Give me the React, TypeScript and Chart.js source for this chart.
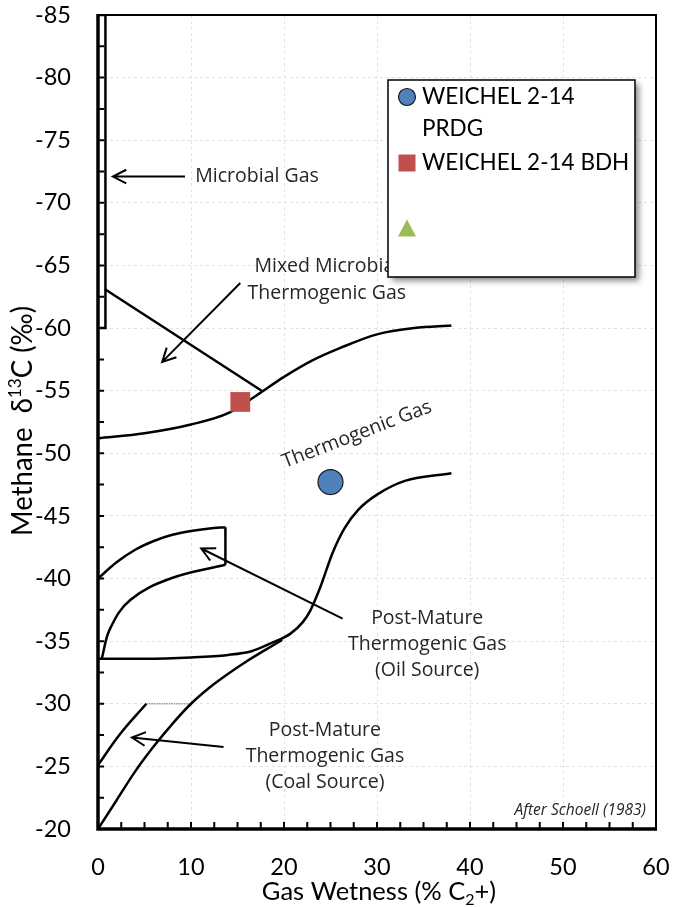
import React, { useEffect, useRef } from "react";
import { Chart, registerables } from "chart.js";

Chart.register(...registerables);

// ---------------- data ----------------
const xMin = 0;
const xMax = 60;
const xStep = 10;
const xMinorStep = 2.5;
const yMin = -85;
const yMax = -20;
const yStep = 5;
const yMinorStep = 2.5;

const prdgPoints = [{ x: 25, y: -47.7 }];
const bdhPoints = [{ x: 15.3, y: -54.1 }];
const otherPoints: { x: number; y: number }[] = [];
const seriesLabels = [["WEICHEL 2-14", "PRDG"], ["WEICHEL 2-14 BDH"], [""]];

const microbialBox = [[0, -85], [0.8, -85], [0.8, -60], [0, -60]];
const mixedLine = [[0.75, -63.1], [17.6, -55.0]];
const thermoUpper = [
  [0, -51.2], [5, -51.6], [10, -52.3], [14, -53.2], [17, -54.6], [20, -56.1],
  [23, -57.4], [26, -58.4], [30, -59.5], [34, -60.0], [38, -60.2],
];
const thermoLower = [
  [0, -33.6], [5, -33.6], [10, -33.7], [14, -33.9], [16.5, -34.2], [18.5, -34.8],
  [20.7, -35.6], [22, -36.5], [22.8, -37.4], [23.9, -39.3], [25.2, -42.0],
  [26.5, -44.0], [28, -45.5], [30, -46.7], [33, -47.8], [38, -48.4],
];
const oilUpper = [
  [0, -40.0], [2, -41.3], [4, -42.3], [6, -43.0], [8, -43.5], [10, -43.8], [12, -44.0], [13.7, -44.1],
];
const oilSide = [[13.7, -44.1], [13.7, -41.1]];
const oilLower = [[0.4, -33.6], [1.3, -36.0], [3.5, -38.3], [7.8, -40.0], [13.7, -41.1]];
const coalLower = [
  [0, -20], [2, -22.3], [4, -24.6], [6, -26.6], [8, -28.4], [10, -30.0],
  [12, -31.3], [14, -32.4], [16, -33.4], [18, -34.3], [19.8, -35.1],
];
const coalUpper = [[0, -25.1], [2.4, -27.6], [5.2, -30.0]];
const coalCap = [[5.2, -30.0], [9.9, -30.0]];

const arrowFrom = [[9.35, -72.1], [15.3, -63.6], [26.3, -36.8], [13.5, -26.55]];
const arrowTo = [[1.6, -72.1], [6.9, -57.3], [11.1, -42.4], [3.65, -27.3]];

const annoText = [
  "Microbial Gas",
  "Mixed Microbial", "Thermogenic Gas",
  "Post-Mature", "Thermogenic Gas", "(Oil Source)",
  "Post-Mature", "Thermogenic Gas", "(Coal Source)",
];
const annoX = [17.1, 24.6, 24.6, 35.4, 35.4, 35.4, 24.4, 24.4, 24.4];
const annoY = [-72.1, -64.9, -62.8, -36.85, -34.7, -32.7, -27.9, -25.8, -23.75];

const rotatedText = "Thermogenic Gas";
const rotatedPos = [27.85, -51.5];
const creditText = "After Schoell (1983)";

// ---------------- styles ----------------
const BLUE = "#4F81BD";
const RED = "#C0504D";
const GREEN = "#9BBB59";
const ANNO_FONT = "19.5px 'Open Sans'";
const TEXT_COLOR = "#262626";

const toXY = (arr: number[][]) => arr.map(([x, y]) => ({ x, y }));

const lineDs = (data: number[][], extra: any = {}) => ({
  data: toXY(data),
  showLine: true,
  borderColor: "#000",
  borderWidth: 2.5,
  pointRadius: 0,
  pointHoverRadius: 0,
  fill: false,
  tension: 0,
  ...extra,
});
const curve = { cubicInterpolationMode: "monotone" };
const spline = { tension: 0.4 };

function drawArrow(ctx: CanvasRenderingContext2D, x1: number, y1: number, x2: number, y2: number) {
  const ang = Math.atan2(y2 - y1, x2 - x1);
  const len = 15;
  const spread = (27 * Math.PI) / 180;
  ctx.beginPath();
  ctx.moveTo(x1, y1);
  ctx.lineTo(x2, y2);
  ctx.moveTo(x2 - len * Math.cos(ang - spread), y2 - len * Math.sin(ang - spread));
  ctx.lineTo(x2, y2);
  ctx.lineTo(x2 - len * Math.cos(ang + spread), y2 - len * Math.sin(ang + spread));
  ctx.stroke();
}

function drawParts(
  ctx: CanvasRenderingContext2D,
  parts: { t: string; size: number; dy: number }[],
  family: string,
  cx: number,
  cy: number,
  targetWidth?: number
) {
  let total = 0;
  for (const p of parts) {
    ctx.font = `${p.size}px ${family}`;
    total += ctx.measureText(p.t).width;
  }
  ctx.save();
  ctx.translate(cx, cy);
  if (targetWidth) ctx.scale(targetWidth / total, 1);
  let x = -total / 2;
  ctx.textAlign = "left";
  ctx.textBaseline = "alphabetic";
  for (const p of parts) {
    ctx.font = `${p.size}px ${family}`;
    ctx.fillText(p.t, x, p.dy);
    x += ctx.measureText(p.t).width;
  }
  ctx.restore();
}

const overlayPlugin = {
  id: "overlay",
  afterDatasetsDraw(chart: any) {
    const ctx: CanvasRenderingContext2D = chart.ctx;
    const xs = chart.scales.x;
    const ys = chart.scales.y;
    const { left, right, top, bottom } = chart.chartArea;
    const px = (v: number) => xs.getPixelForValue(v);
    const py = (v: number) => ys.getPixelForValue(v);

    ctx.save();
    // arrows
    ctx.strokeStyle = "#000";
    ctx.lineWidth = 2;
    ctx.lineCap = "butt";
    for (let i = 0; i < arrowFrom.length; i++) {
      drawArrow(ctx, px(arrowFrom[i][0]), py(arrowFrom[i][1]), px(arrowTo[i][0]), py(arrowTo[i][1]));
    }

    // annotations
    ctx.fillStyle = TEXT_COLOR;
    ctx.font = ANNO_FONT;
    ctx.textAlign = "center";
    ctx.textBaseline = "middle";
    for (let i = 0; i < annoText.length; i++) {
      ctx.fillText(annoText[i], px(annoX[i]), py(annoY[i]));
    }
    ctx.save();
    ctx.translate(px(rotatedPos[0]), py(rotatedPos[1]));
    ctx.rotate((-21 * Math.PI) / 180);
    ctx.fillText(rotatedText, 0, 0);
    ctx.restore();

    ctx.font = "italic 15.5px 'Open Sans'";
    ctx.textAlign = "right";
    ctx.fillText(creditText, right - 10, bottom - 18);

    // inward ticks
    ctx.strokeStyle = "#000";
    ctx.lineWidth = 2;
    ctx.beginPath();
    for (let v = xMin; v <= xMax + 1e-9; v += xMinorStep) {
      const x = px(v);
      ctx.moveTo(x, bottom);
      ctx.lineTo(x, bottom - 7);
    }
    for (let v = yMin; v <= yMax + 1e-9; v += yMinorStep) {
      const y = py(v);
      ctx.moveTo(left, y);
      ctx.lineTo(left + 6, y);
    }
    ctx.stroke();

    // frame
    ctx.lineWidth = 2;
    ctx.beginPath();
    ctx.moveTo(left, top);
    ctx.lineTo(right, top);
    ctx.lineTo(right, bottom);
    ctx.stroke();
    ctx.lineWidth = 3.5;
    ctx.beginPath();
    ctx.moveTo(left, top - 1);
    ctx.lineTo(left, bottom);
    ctx.lineTo(right + 1, bottom);
    ctx.stroke();

    // axis titles
    ctx.fillStyle = "#000";
    drawParts(
      ctx,
      [
        { t: "Gas Wetness (% C", size: 25.5, dy: 0 },
        { t: "2", size: 16, dy: 5 },
        { t: "+)", size: 25.5, dy: 0 },
      ],
      "Lato",
      (left + right) / 2 + 2,
      900
    );
    ctx.save();
    ctx.translate(32, (top + bottom) / 2 - 1);
    ctx.rotate(-Math.PI / 2);
    drawParts(
      ctx,
      [
        { t: "Methane  δ", size: 29, dy: 0 },
        { t: "13", size: 18, dy: -11 },
        { t: "C (‰)", size: 29, dy: 0 },
      ],
      "Lato",
      0,
      0,
      230
    );
    ctx.restore();

    // legend
    const L = 388, T = 80, W = 247, H = 197;
    ctx.save();
    ctx.shadowColor = "rgba(0,0,0,0.45)";
    ctx.shadowBlur = 6;
    ctx.shadowOffsetX = 4;
    ctx.shadowOffsetY = 4;
    ctx.fillStyle = "#fff";
    ctx.fillRect(L, T, W, H);
    ctx.restore();
    ctx.strokeStyle = "#000";
    ctx.lineWidth = 1.5;
    ctx.strokeRect(L, T, W, H);

    const mx = L + 19;
    const rowY = [T + 17, T + 83, T + 148];
    ctx.beginPath();
    ctx.arc(mx, rowY[0], 8.5, 0, Math.PI * 2);
    ctx.fillStyle = BLUE;
    ctx.fill();
    ctx.lineWidth = 1.2;
    ctx.strokeStyle = "#1a1a1a";
    ctx.stroke();
    ctx.fillStyle = RED;
    ctx.fillRect(mx - 8.5, rowY[1] - 8.5, 17, 17);
    ctx.fillStyle = GREEN;
    ctx.beginPath();
    ctx.moveTo(mx, rowY[2] - 8.5);
    ctx.lineTo(mx + 9, rowY[2] + 8.5);
    ctx.lineTo(mx - 9, rowY[2] + 8.5);
    ctx.closePath();
    ctx.fill();

    ctx.fillStyle = "#000";
    ctx.font = "22.5px Lato";
    ctx.textAlign = "left";
    ctx.textBaseline = "middle";
    for (let i = 0; i < seriesLabels.length; i++) {
      seriesLabels[i].forEach((line, j) => {
        ctx.fillText(line, L + 34, rowY[i] + j * 32);
      });
    }
    ctx.restore();
  },
};

const zeroPad = (s: any) => {
  s.paddingTop = 0;
  s.paddingBottom = 0;
  s.paddingLeft = 0;
  s.paddingRight = 0;
};

export default function App() {
  const ref = useRef<HTMLCanvasElement>(null);
  useEffect(() => {
    if (!ref.current) return;
    const chart = new Chart(ref.current, {
      type: "scatter",
      data: {
        datasets: [
          {
            label: seriesLabels[0].join(" "),
            data: prdgPoints,
            pointStyle: "circle",
            pointRadius: 12.5,
            pointHoverRadius: 12.5,
            backgroundColor: BLUE,
            borderColor: "#1a1a1a",
            borderWidth: 1.2,
          },
          {
            label: seriesLabels[1].join(" "),
            data: bdhPoints,
            pointStyle: "rect",
            pointRadius: 14,
            pointHoverRadius: 14,
            backgroundColor: RED,
            borderColor: RED,
            borderWidth: 0,
          },
          {
            label: seriesLabels[2].join(" "),
            data: otherPoints,
            pointStyle: "triangle",
            pointRadius: 10,
            backgroundColor: GREEN,
            borderColor: GREEN,
          },
          lineDs(microbialBox),
          lineDs(mixedLine),
          lineDs(thermoUpper, curve),
          lineDs(thermoLower, curve),
          lineDs(oilUpper, curve),
          lineDs(oilSide),
          lineDs(oilLower, spline),
          lineDs(coalLower, curve),
          lineDs(coalUpper, spline),
          lineDs(coalCap, { borderColor: "#9a9a9a", borderWidth: 1.5, borderDash: [1.5, 1] }),
        ] as any,
      },
      options: {
        animation: false,
        responsive: true,
        maintainAspectRatio: false,
        layout: { autoPadding: false, padding: { top: 15, right: 17, left: 0, bottom: 0 } },
        plugins: { legend: { display: false }, tooltip: { enabled: false } },
        events: [],
        scales: {
          x: {
            type: "linear",
            min: xMin,
            max: xMax,
            ticks: { stepSize: xStep, font: { family: "Lato", size: 23.5 }, color: "#000", padding: 24, maxRotation: 0 },
            grid: { drawTicks: false, color: "#e2e2e2", lineWidth: 1 },
            border: { display: false, dash: [3, 3] },
            afterFit: (s: any) => {
              s.height = 78;
              zeroPad(s);
            },
          },
          y: {
            type: "linear",
            min: yMin,
            max: yMax,
            reverse: true,
            ticks: { stepSize: yStep, font: { family: "Lato", size: 23.5 }, color: "#000", padding: 27 },
            grid: { drawTicks: false, color: "#e2e2e2", lineWidth: 1 },
            border: { display: false, dash: [3, 3] },
            afterFit: (s: any) => {
              s.width = 98;
              zeroPad(s);
            },
          },
        },
      } as any,
      plugins: [overlayPlugin],
    });
    return () => chart.destroy();
  }, []);
  return (
    <div style={{ position: "absolute", left: 0, top: 0, width: 673, height: 907, background: "#fff" }}>
      <canvas ref={ref} />
    </div>
  );
}
